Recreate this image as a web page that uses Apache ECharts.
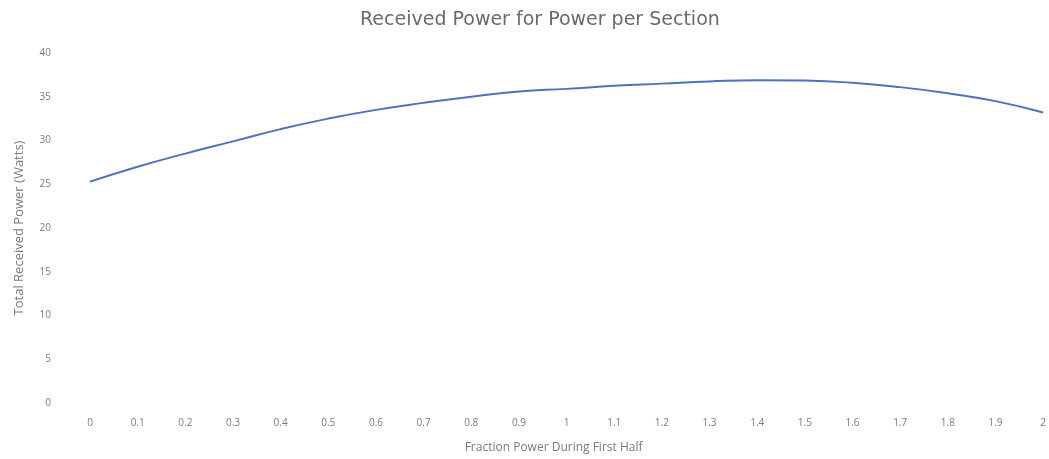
<!DOCTYPE html>
<html>
<head>
<meta charset="utf-8">
<script src="https://cdn.jsdelivr.net/npm/echarts@6/dist/echarts.min.js"></script>
<style>html,body{margin:0;padding:0;background:#fff;}#c{width:1049px;height:459px;}</style>
</head>
<body>
<div id="c"></div>
<script>
const categories = ["0","0.1","0.2","0.3","0.4","0.5","0.6","0.7","0.8","0.9","1","1.1","1.2","1.3","1.4","1.5","1.6","1.7","1.8","1.9","2"];
const receivedPower = [25.3,27.0,28.5,29.9,31.3,32.5,33.5,34.3,35.0,35.6,35.9,36.25,36.5,36.75,36.9,36.85,36.6,36.1,35.4,34.5,33.2];
const yTicks = [0,5,10,15,20,25,30,35,40];

const chart = echarts.init(document.getElementById('c'));
const txt = '#7a7a7a';
chart.setOption({
  animation: false,
  backgroundColor: '#ffffff',
  title: {
    text: 'Received Power for Power per Section',
    left: 355, top: 6,
    textStyle: { color: '#6a6a6a', fontSize: 19, fontWeight: 'normal', fontFamily: 'DejaVu Sans' }
  },
  grid: { left: 90, right: 3, top: 53, bottom: 54 },
  xAxis: {
    type: 'category',
    data: categories,
    boundaryGap: false,
    name: 'Fraction Power During First Half',
    nameLocation: 'middle',
    nameGap: 39,
    nameTextStyle: { color: txt, fontSize: 12, fontFamily: 'Open Sans', padding: [0, 26, 0, 0] },
    axisLine: { show: false },
    axisTick: { show: false },
    axisLabel: { color: txt, fontSize: 10, fontFamily: 'Open Sans', margin: 15, interval: 0 },
    splitLine: { show: false }
  },
  yAxis: {
    type: 'value',
    min: yTicks[0], max: yTicks[yTicks.length - 1], interval: 5,
    name: 'Total Received Power (Watts)',
    nameLocation: 'middle',
    nameGap: 64,
    nameTextStyle: { color: txt, fontSize: 13, fontFamily: 'Open Sans' },
    axisLine: { show: false },
    axisTick: { show: false },
    axisLabel: { color: txt, fontSize: 10, fontFamily: 'Open Sans', margin: 39 },
    splitLine: { show: false }
  },
  series: [{
    type: 'line',
    data: receivedPower,
    smooth: true,
    symbol: 'none',
    lineStyle: { color: '#4a72c0', width: 2 }
  }]
});
</script>
</body>
</html>
